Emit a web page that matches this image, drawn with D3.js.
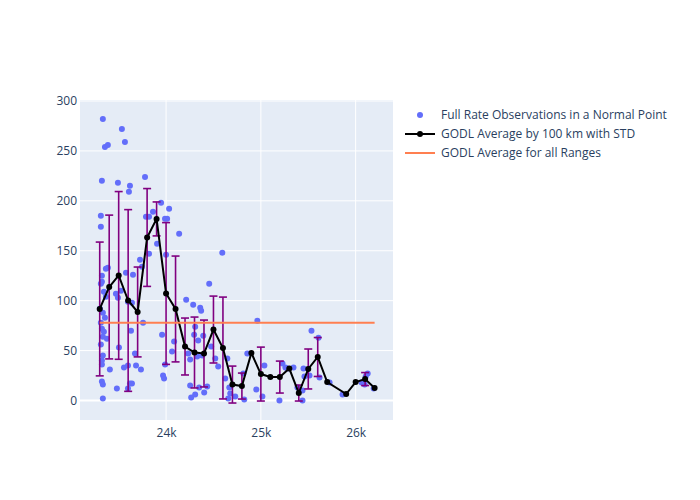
<!DOCTYPE html>
<html>
<head>
<meta charset="utf-8">
<script src="https://cdn.jsdelivr.net/npm/d3@7"></script>
<style>
  body { margin: 0; background: #fff; }
  svg { display: block; }
</style>
</head>
<body>
<svg id="chart" width="700" height="500"></svg>
<script>
// Full-rate observations (range km, value)
const obsX = [23333,23355,23386,23323,23312,23312,23365,23386,23323,23323,23312,23344,23365,23302,23333,23355,23312,23323,23344,23333,23376,23312,23333,23323,23323,23323,23333,23333,23407,
  23534,23492,23471,23492,23524,23503,23556,23481,23566,
  23619,23608,23577,23651,23598,23640,23630,23672,23598,23683,23619,23640,23598,
  23778,23725,23746,23735,23757,23788,23820,23820,
  23862,23947,24032,23989,24011,23905,24000,23958,23968,23979,23990,
  24138,24085,24063,24212,24233,24254,24254,24265,24307,
  24286,24360,24370,24307,24296,24339,24328,24349,24402,24434,24455,24476,24392,24381,
  24519,24550,24593,24624,24646,24667,24656,24677,24730,
  24815,24857,24825,24963,24952,25016,25037,
  25196,25228,25259,25280,25344,25386,25439,25450,25460,25439,25513,25534,25608,25619,25725,
  25862,26063,26106,26127,26095,26190];
const obsY = [282,254,256,220,185,174,132,133,125,119,117,109,104,92,88,83,78,72,69,64,62,56,45,40,36,19,16,2,31,
  272,218,107,103,110,53,33,12,259,
  215,209,128,126,99,98,70,47,35,35,17,17,12,
  224,141,134,31,78,184,184,147,
  189,198,192,182,182,157,146,66,25,22,36,
  167,59,49,101,47,41,15,3,6,
  96,93,90,74,66,60,44,13,8,14,117,54,65,45,
  42,34,148,22,42,13,2,7,4,
  27,47,1,80,11,4,35,
  0,37,33,32,33,13,0,32,24,10,25,70,63,23,18,
  6,18,24,27,16,12];

// GODL average by 100 km bins, with standard deviation
const binX = [23300,23400,23500,23600,23700,23800,23900,24000,24100,24200,24300,24400,24500,24600,24700,24800,24900,25000,25100,25200,25300,25400,25500,25600,25700,25900,26000,26100,26200];
const binMean = [91.7,113.7,125.3,100.2,88.7,163.3,181.9,107.2,91.7,54.1,48.1,47.1,71.1,52.6,16,14.5,47.6,26.5,23.5,23.5,32,7.5,31.6,43.6,18.5,6.5,18.5,21.5,12.5];
const binStd = [67,72,84,91,45,49,17,71,53,28.5,35.5,33.5,33.5,51,18.5,13,null,27,null,16,null,8,20,19.5,null,null,null,6.5,null];

// Overall average
const overallMean = 78;

const xTicks = [24000, 25000, 26000];
const xTickLabels = ["24k", "25k", "26k"];
const yTicks = [0, 50, 100, 150, 200, 250, 300];

const legendLabels = ["Full Rate Observations in a Normal Point", "GODL Average by 100 km with STD", "GODL Average for all Ranges"];

const svg = d3.select("#chart");
const L = 80, R = 393, T = 100, B = 420;
const x = d3.scaleLinear().domain([23092, 26394]).range([L, R]);
const y = d3.scaleLinear().domain([-19.5, 301]).range([B, T]);
const font = "'Open Sans', 'Noto Sans', sans-serif";
const textColor = "#2a3f5f";

svg.append("rect").attr("x", L).attr("y", T).attr("width", R - L).attr("height", B - T).attr("fill", "#E5ECF6");

const clipId = "plotclip";
svg.append("clipPath").attr("id", clipId).append("rect").attr("x", L).attr("y", T).attr("width", R - L).attr("height", B - T);

// grid
const grid = svg.append("g");
grid.selectAll(".gx").data(xTicks).enter().append("line")
  .attr("x1", d => x(d)).attr("x2", d => x(d)).attr("y1", T).attr("y2", B)
  .attr("stroke", "#fff").attr("stroke-width", 1);
grid.selectAll(".gy").data(yTicks).enter().append("line")
  .attr("x1", L).attr("x2", R).attr("y1", d => y(d)).attr("y2", d => y(d))
  .attr("stroke", "#fff").attr("stroke-width", d => d === 0 ? 2 : 1);

// axes
const xAxis = d3.axisBottom(x).tickValues(xTicks).tickFormat((d, i) => xTickLabels[i]).tickSize(0).tickPadding(8);
const gx = svg.append("g").attr("transform", `translate(0,${B})`).call(xAxis);
gx.select(".domain").remove();
gx.selectAll("text").attr("font-family", font).attr("font-size", 12).attr("fill", textColor);

const yAxis = d3.axisLeft(y).tickValues(yTicks).tickSize(0).tickPadding(3);
const gy = svg.append("g").attr("transform", `translate(${L},0)`).call(yAxis);
gy.select(".domain").remove();
gy.selectAll("text").attr("font-family", font).attr("font-size", 12).attr("fill", textColor);

const plot = svg.append("g").attr("clip-path", `url(#${clipId})`);

// scatter
const obs = obsX.map((v, i) => ({x: v, y: obsY[i]}));
plot.selectAll(".obs").data(obs).enter().append("circle")
  .attr("cx", d => x(d.x)).attr("cy", d => y(d.y)).attr("r", 3)
  .attr("fill", "#636efa");

// error bars
const bins = binX.map((v, i) => ({x: v, m: binMean[i], s: binStd[i]}));
const eb = plot.append("g").attr("stroke", "#800080").attr("stroke-width", 1.6);
bins.filter(d => d.s !== null).forEach(d => {
  const cx = x(d.x);
  eb.append("line").attr("x1", cx).attr("x2", cx).attr("y1", y(d.m - d.s)).attr("y2", y(d.m + d.s));
  eb.append("line").attr("x1", cx - 4).attr("x2", cx + 4).attr("y1", y(d.m - d.s)).attr("y2", y(d.m - d.s));
  eb.append("line").attr("x1", cx - 4).attr("x2", cx + 4).attr("y1", y(d.m + d.s)).attr("y2", y(d.m + d.s));
});

// average line
const line = d3.line().x(d => x(d.x)).y(d => y(d.m));
plot.append("path").datum(bins).attr("d", line).attr("fill", "none").attr("stroke", "#000").attr("stroke-width", 2);
plot.selectAll(".bm").data(bins).enter().append("circle")
  .attr("cx", d => x(d.x)).attr("cy", d => y(d.m)).attr("r", 3).attr("fill", "#000");

// overall average
plot.append("line")
  .attr("x1", x(binX[0])).attr("x2", x(binX[binX.length - 1]))
  .attr("y1", y(overallMean)).attr("y2", y(overallMean))
  .attr("stroke", "#FF7F50").attr("stroke-width", 2);

// legend
const lg = svg.append("g").attr("font-family", font).attr("font-size", 12).attr("fill", textColor);
const ly = [115, 134, 153];
lg.append("circle").attr("cx", 420).attr("cy", ly[0]).attr("r", 3).attr("fill", "#636efa");
lg.append("line").attr("x1", 405).attr("x2", 435).attr("y1", ly[1]).attr("y2", ly[1]).attr("stroke", "#000").attr("stroke-width", 2);
lg.append("circle").attr("cx", 420).attr("cy", ly[1]).attr("r", 3).attr("fill", "#000");
lg.append("line").attr("x1", 405).attr("x2", 435).attr("y1", ly[2]).attr("y2", ly[2]).attr("stroke", "#FF7F50").attr("stroke-width", 2);
legendLabels.forEach((t, i) => {
  lg.append("text").attr("x", 441).attr("y", ly[i]).attr("dy", "0.35em").text(t);
});
</script>
</body>
</html>
